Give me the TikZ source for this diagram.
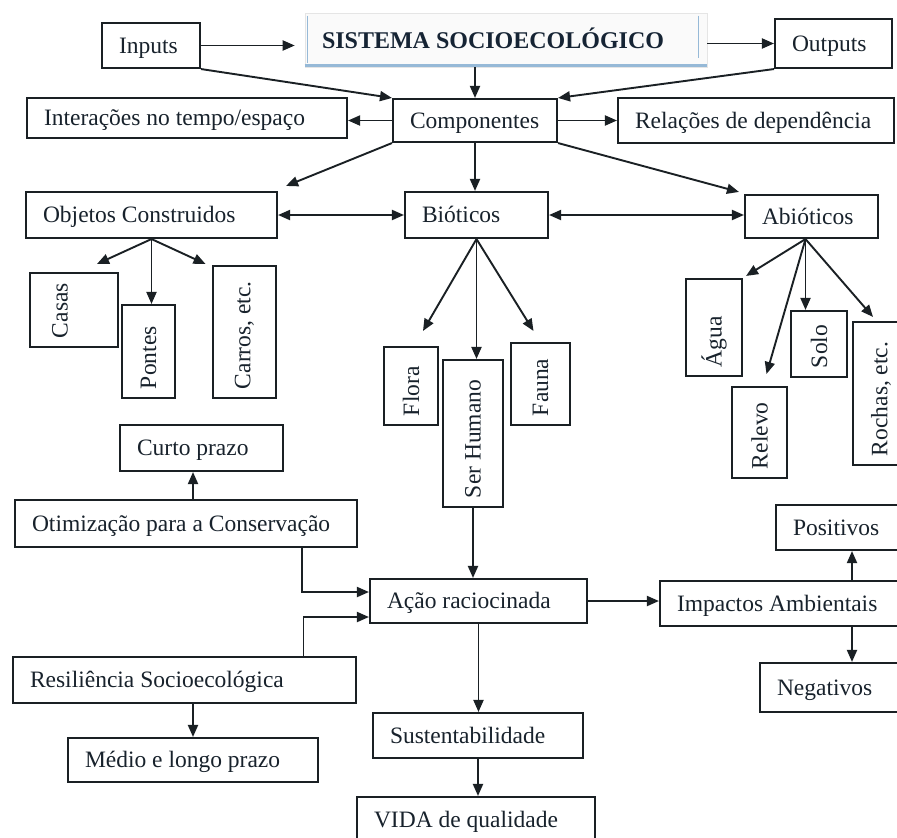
\documentclass[tikz,border=0pt]{standalone}
\usepackage{fontspec}
\setmainfont{Liberation Serif}
\usepackage{graphicx}
\usetikzlibrary{arrows.meta,calc}
\definecolor{lc}{RGB}{26,32,36}
\definecolor{tc}{RGB}{24,34,44}
\definecolor{navy}{RGB}{22,36,52}
\definecolor{sblue}{RGB}{150,185,215}
\tikzset{
  box/.style={draw=lc, line width=2.1pt, fill=white, inner sep=0pt, text=tc,
    font=\fontsize{23.5}{26}\selectfont},
  hbox/.style={box, text height=15.5pt, text depth=0pt},
  titlebox/.style={draw=gray!20, line width=0.6pt, fill=gray!4, inner sep=0pt, text=navy,
    text height=16pt, text depth=0pt, font=\fontsize{24}{26}\selectfont\bfseries},
  arr/.style={draw=lc, line width=1.9pt, -{Triangle[length=12pt,width=10pt]}},
  darr/.style={draw=lc, line width=1.9pt, {Triangle[length=12pt,width=10pt]}-{Triangle[length=12pt,width=10pt]}}
}
\newcommand\bx[6]{%
  \pgfmathsetmacro\myW{#4-#2}\pgfmathsetmacro\myH{#5-#3}\pgfmathsetmacro\myT{#4-#2-34}%
  \node[hbox,minimum width=\myW pt,minimum height=\myH pt] (#1) at ({(#2+#4)/2},{-(#3+#5)/2}) {\makebox[\myT pt][l]{#6}};}
\newcommand\vbx[7][0]{%
  \pgfmathsetmacro\myW{#5-#3}\pgfmathsetmacro\myH{#6-#4}\pgfmathsetmacro\myT{#6-#4-18}%
  \node[box,minimum width=\myW pt,minimum height=\myH pt] (#2) at ({(#3+#5)/2},{-(#4+#6)/2}) {\rotatebox{90}{\makebox[\myT pt][l]{#7}}\rule{#1pt}{0pt}};}
\begin{document}
\begin{tikzpicture}[x=1pt,y=1pt]
\useasboundingbox (0,0) rectangle (897,-838);
\clip (0,0) rectangle (897,-838);
\fill[white] (0,0) rectangle (897,-838);

% title
\node[titlebox, minimum width=402pt, minimum height=54pt] (Title) at (506,-40) {\makebox[368pt][l]{SISTEMA SOCIOECOLÓGICO}};
\draw[sblue, line width=3pt] ([yshift=1.5pt]Title.south west) -- ([yshift=1.5pt]Title.south east);
\draw[sblue, line width=1.2pt] ([xshift=3pt,yshift=-3pt]Title.north west) -- ([xshift=3pt,yshift=4pt]Title.south west);
\draw[sblue, line width=1.2pt] ([xshift=-9pt,yshift=-3pt]Title.north east) -- ([xshift=-9pt,yshift=9pt]Title.south east);

% top row
\bx{Inputs}{102}{23}{200}{68}{Inputs}
\bx{Outputs}{775}{19}{892}{68}{Outputs}
\bx{Comp}{393}{99}{557}{142}{Componentes}
\bx{Inter}{27}{98}{347}{138}{Interações no tempo/espaço}
\bx{Rel}{618}{98}{894}{143}{Relações de dependência}
\bx{Obj}{26}{192}{277}{238}{Objetos Construidos}
\bx{Biot}{405}{192}{548}{238}{Bióticos}
\bx{Abiot}{745}{195}{878}{238}{Abióticos}

% vertical boxes
\vbx[28]{Casas}{30}{273}{118}{347}{Casas}
\vbx{Pontes}{122}{305}{175}{398}{Pontes}
\vbx{Carros}{213}{266}{276}{398}{Carros, etc.}
\vbx{Flora}{384}{347}{438}{425}{Flora}
\vbx{SerH}{443}{360}{503}{507}{Ser Humano}
\vbx{Fauna}{511}{343}{570}{425}{Fauna}
\vbx{Agua}{686}{279}{742}{376}{Água}
\vbx{Relevo}{732}{387}{787}{478}{Relevo}
\vbx{Solo}{791}{311}{847}{377}{Solo}
\vbx{Rochas}{853}{322}{909}{465}{Rochas, etc.}

% lower part
\bx{Curto}{120}{425}{283}{471}{Curto prazo}
\bx{Otim}{15}{500}{357}{547}{Otimização para a Conservação}
\bx{Acao}{370}{579}{587}{623}{Ação raciocinada}
\bx{Impact}{660}{581}{1044}{626}{Impactos Ambientais}
\bx{Posit}{776}{505}{928}{550}{Positivos}
\bx{Negat}{760}{663}{944}{712}{Negativos}
\bx{Resil}{13}{657}{356}{703}{Resiliência Socioecológica}
\bx{Medio}{68}{738}{318}{782}{Médio e longo prazo}
\bx{Sust}{373}{713}{583}{758}{Sustentabilidade}
\bx{Vida}{357}{797}{595}{843}{VIDA de qualidade}

% connectors, top
\draw[arr] (Inputs.east) -- ([xshift=-10pt]Title.west |- Inputs.east);
\draw[arr] (Title.east |- Outputs.west) -- (Outputs.west);
\draw[arr] (Comp.north |- Title.south) -- (Comp.north);
\draw[arr] (Inputs.south east) -- (Comp.north west);
\draw[arr] (Outputs.south west) -- (Comp.north east);
\draw[arr] (Comp.west) -- (Comp.west -| Inter.east);
\draw[arr] (Comp.east) -- (Comp.east -| Rel.west);
\draw[arr] (Comp.south west) -- ($(Obj.north east)+(8,5)$);
\draw[arr] (Comp.south) -- (Comp.south |- Biot.north);
\draw[arr] (Comp.south east) -- ($(Abiot.north west)+(-5,2)$);
\draw[darr] (Obj.east) -- (Obj.east -| Biot.west);
\draw[darr] (Biot.east) -- (Biot.east -| Abiot.west);

% children of Objetos
\draw[arr] (Obj.south) -- ($(Casas.north)+(23,8)$);
\draw[arr] (Obj.south) -- (Obj.south |- Pontes.north);
\draw[arr] (Obj.south) -- ($(Carros.north)+(-39,1)$);

% children of Bioticos
\draw[arr] (Biot.south) -- ($(Flora.north)+(12,15)$);
\draw[arr] (Biot.south) -- (Biot.south |- SerH.north);
\draw[arr] (Biot.south) -- ($(Fauna.north)+(-7,11)$);

% children of Abioticos
\coordinate (ab) at ($(Abiot.south)+(-6,0)$);
\draw[arr] (ab) -- ($(Agua.north east)+(3,2)$);
\draw[arr] (ab) -- ($(Relevo.north)+(7,12)$);
\draw[arr] (ab) -- (ab |- Solo.north);
\draw[arr] (ab) -- ($(Rochas.north)+(-8,4)$);

% lower connectors
\draw[arr] ([xshift=7pt]Otim.north) -- ([xshift=7pt]Otim.north |- Curto.south);
\draw[arr] ([xshift=116pt]Otim.south) |- ([yshift=9pt]Acao.west);
\draw[arr] ([xshift=119pt]Resil.north) |- ([yshift=-16pt]Acao.west);
\draw[arr] (Medio.north |- Resil.south) -- (Medio.north);
\draw[arr] (SerH.south) -- (SerH.south |- Acao.north);
\draw[arr] (Acao.south) -- (Acao.south |- Sust.north);
\draw[arr] (Sust.south) -- (Sust.south |- Vida.north);
\draw[arr] (Acao.east) -- (Acao.east -| Impact.west);
\draw[arr] (Impact.north -| Posit.south) -- (Posit.south);
\draw[arr] (Impact.south -| Negat.north) -- (Negat.north);
\end{tikzpicture}
\end{document}
